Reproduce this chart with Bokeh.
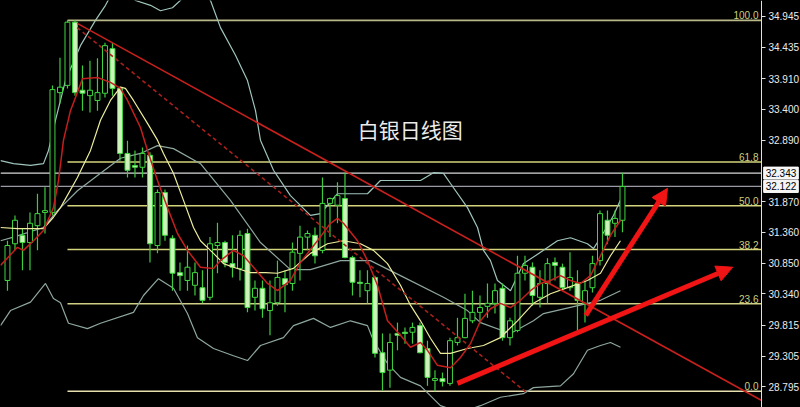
from bokeh.plotting import figure
from bokeh.models import Range1d, FixedTicker, PrintfTickFormatter, Label, Arrow, NormalHead, ColumnDataSource, LinearAxis
from bokeh.embed import file_html
from bokeh.resources import INLINE
from bokeh.core.properties import value

# ---------------- data ----------------
opens = [30.56,31.17,31.31,31.19,31.47,31.69,31.69,33.68,33.80,34.85,
         33.72,33.63,33.55,33.67,34.41,33.75,32.67,32.47,32.44,32.64,
         31.14,32.02,31.26,30.69,30.56,30.48,30.44,30.28,31.14,31.19,
         30.84,30.76,31.34,30.28,30.43,30.06,30.19,30.59,30.51,31.01,
         31.28,31.31,31.06,31.84,31.81,31.92,30.94,30.53,30.39,30.61,
         29.36,29.07,29.68,29.70,29.70,29.81,29.43,28.90,28.93,28.85,
         29.53,29.61,29.89,30.03,30.13,30.18,30.43,29.61,29.73,30.68,
         30.78,30.28,30.51,30.86,30.78,30.44,30.51,30.18,30.44,30.89,
         31.56,31.51,31.56]
highs = [31.22,31.64,31.42,31.69,32.00,32.11,33.80,34.26,34.88,34.88,
         34.13,34.21,34.25,34.51,34.51,33.78,32.88,32.72,32.77,32.69,
         32.07,32.07,31.31,30.86,31.14,30.86,30.73,31.28,31.52,31.22,
         31.31,31.39,31.42,30.56,30.56,30.56,30.89,30.73,31.19,31.47,
         31.39,31.44,32.27,31.94,32.19,32.35,30.97,30.73,30.73,30.64,
         29.68,29.68,29.86,29.78,29.86,29.86,29.56,29.07,29.03,29.61,
         29.94,30.34,30.39,30.31,30.51,30.51,30.51,29.94,30.97,30.97,
         30.86,30.73,30.93,30.94,30.84,31.03,30.73,30.56,30.97,31.72,
         31.72,31.72,32.35]
lows = [30.39,31.06,30.73,30.73,31.06,31.34,31.64,33.50,33.75,33.63,
        33.38,33.35,33.38,33.60,33.63,32.55,32.27,32.27,32.27,30.86,
        31.01,31.22,30.39,30.39,30.39,30.31,30.18,30.23,30.68,30.78,
        30.61,30.56,30.03,30.06,29.94,29.65,30.14,30.03,30.39,30.56,
        31.06,30.84,31.01,31.28,31.51,30.93,30.31,30.28,30.18,29.28,
        28.73,28.78,29.40,29.51,29.51,29.35,28.81,28.72,28.80,28.81,
        29.48,29.60,29.85,29.85,29.94,30.01,29.56,29.48,29.70,30.56,
        30.14,30.11,30.18,30.56,30.39,30.39,29.70,29.86,30.36,30.81,
        31.17,31.28,31.36]
closes = [31.14,31.56,31.19,31.51,31.67,31.72,33.73,33.77,34.85,33.68,
          33.67,33.72,33.68,34.46,33.75,32.67,32.39,32.44,32.67,31.17,
          32.02,31.31,30.68,30.64,30.78,30.69,30.23,31.17,31.19,30.86,
          30.78,31.31,30.11,30.43,30.09,30.19,30.61,30.49,31.03,31.28,
          31.34,30.97,31.84,31.92,31.97,30.94,30.53,30.51,30.51,29.35,
          29.03,29.53,29.65,29.68,29.78,29.36,28.95,28.93,28.88,29.56,
          29.61,29.93,30.03,30.11,30.18,30.39,29.61,29.89,30.68,30.81,
          30.31,30.51,30.84,30.81,30.44,30.61,30.23,30.39,30.84,31.67,
          31.31,31.59,32.12]

# indicator lines (bar index, price)
ma_red_x = [-0.93,1.33,2.13,3.47,4.8,6.13,6.8,7.47,8.4,9.07,10.0,12.0,13.73,15.07,16.0,17.73,18.67,20.0,21.33,22.67,
            24.0,25.73,27.47,28.4,30.13,31.47,32.8,34.67,36.0,37.73,39.07,41.33,43.07,44.0,44.8,46.67,48.0,49.33,50.67,52.4,
            53.73,55.07,56.0,57.33,59.07,60.4,61.73,63.07,64.4,65.73,67.07,68.4,69.73,71.07,72.4,73.73,75.07,76.4,77.73,79.07,
            80.4,81.73]
ma_red_y = [30.81,31.11,31.06,31.22,31.39,31.77,32.22,32.89,33.38,33.60,33.91,33.93,33.85,33.75,33.55,33.10,32.72,32.22,31.77,31.34,
            31.06,30.78,30.76,30.89,31.06,30.97,30.78,30.51,30.39,30.56,30.86,31.22,31.51,31.59,31.51,31.22,30.89,30.48,29.89,29.65,
            29.45,29.53,29.40,29.15,29.11,29.28,29.51,29.89,30.09,30.18,30.11,30.23,30.39,30.51,30.56,30.64,30.56,30.51,30.64,30.97,
            31.31,31.56]
ma_yel_x = [-0.93,1.33,4.8,6.13,7.07,9.33,11.07,12.4,13.73,15.07,15.73,16.8,18.67,20.0,20.8,22.13,23.47,24.8,25.73,27.47,
            28.8,30.13,32.4,34.4,36.0,38.13,40.4,42.67,44.8,47.07,48.8,50.67,52.4,53.73,55.07,56.4,57.73,59.07,61.33,63.47,
            65.73,68.0,70.13,72.4,74.67,77.33,79.07,80.4,81.73]
ma_yel_y = [31.44,31.42,31.42,31.61,31.77,32.27,32.72,33.22,33.55,33.77,33.75,33.55,33.17,32.89,32.67,32.34,31.89,31.44,31.22,31.01,
            30.84,30.78,30.69,30.69,30.68,30.76,31.01,31.17,31.22,31.17,31.06,30.84,30.48,30.15,29.89,29.60,29.35,29.35,29.43,29.48,
            29.61,29.89,30.18,30.34,30.44,30.56,30.68,30.97,31.22]
bb_up_x = [-0.93,0.8,3.07,4.8,5.47,6.4,7.73,9.73,11.73,13.07,14.47,15.73,17.07,19.07,20.4,22.0,23.73,25.73,27.07,28.4,
           30.4,32.0,33.07,33.73,35.47,37.73,40.4,41.73,44.0,48.0,49.73,52.4,55.07,56.8,58.13,59.07,61.33,62.67,63.47,64.4,
           65.33,67.07,68.8,71.47,73.33,75.07,77.33,78.13,79.07,80.8,82.0]
bb_up_y = [32.55,32.50,32.47,32.50,32.72,33.22,33.88,34.46,34.88,35.13,35.46,35.38,35.21,35.13,35.04,35.09,35.29,35.38,35.21,34.76,
           34.30,33.88,33.38,32.89,32.39,31.97,31.64,31.67,32.00,32.00,32.22,32.22,32.22,32.35,32.34,32.17,31.77,31.44,31.06,30.89,
           30.56,30.39,30.84,31.06,31.22,31.27,31.17,31.09,31.27,31.64,31.97]
bb_mid_x = [-0.93,0.8,4.8,6.67,9.33,12.4,15.07,17.73,20.0,22.13,25.73,29.73,33.73,37.73,40.4,44.4,48.4,52.4,58.13,61.33,
            63.07,67.07,70.13,71.47,79.07,81.73]
bb_mid_y = [31.22,31.28,31.44,31.72,32.05,32.34,32.59,32.67,32.80,32.75,32.50,31.89,31.19,30.74,30.74,30.89,30.89,30.64,30.28,30.06,
            29.86,29.68,29.89,30.01,30.23,30.39]
bb_low_x = [-0.93,0.4,3.07,5.07,6.13,7.07,8.13,10.67,12.4,16.8,18.13,20.13,22.13,24.0,25.33,27.47,30.13,32.0,33.73,36.8,
            38.13,40.8,43.07,45.73,48.0,48.8,50.67,52.4,55.07,57.73,60.4,63.07,65.73,68.8,70.13,73.73,75.47,77.33,79.07,80.4,
            81.73]
bb_low_y = [29.81,30.06,30.20,30.51,30.26,30.19,29.85,29.76,29.85,30.03,30.31,30.59,30.43,30.01,29.61,29.43,29.31,29.23,29.48,29.61,
            29.81,29.93,29.78,29.89,29.81,29.56,29.18,28.95,28.81,28.48,28.37,28.48,28.62,28.68,28.78,28.81,29.01,29.40,29.48,29.53,
            29.45]

fib_start_index = 8
fib_high = 34.88
fib_low = 28.72
fib_levels = [0.0, 23.6, 38.2, 50.0, 61.8, 100.0]
fib_labels = ["0.0", "23.6", "38.2", "50.0", "61.8", "100.0"]
price_lines = [32.343, 32.122]
y_ticks = [34.945, 34.435, 33.910, 33.400, 32.890, 31.870, 31.360, 30.850, 30.340, 29.815, 29.305, 28.795]

trend_solid = ([9.3, 100.5], [34.83, 28.57])
trend_dashed = ([9.3, 69.1], [34.76, 28.71])
arrows = [(77.1, 29.98, 88.0, 32.09), (60.0, 28.85, 96.7, 30.78)]
title_text = "白银日线图"

# ---------------- figure ----------------
BAR_PX = 7.5
X0 = -0.93
X_AXIS = 100.53                  # price scale sits here
X1 = X0 + 800 / BAR_PX           # chart canvas spans the whole window
Y0, Y1 = 28.45, 35.21
p = figure(frame_width=800, frame_height=407, x_range=Range1d(X0, X1), y_range=Range1d(Y0, Y1),
           x_axis_location=None, y_axis_location=None, toolbar_location=None,
           output_backend="svg", min_border=0)
p.background_fill_color = "black"
p.border_fill_color = "black"
p.outline_line_color = None
p.xgrid.visible = False
p.ygrid.visible = False

ax = LinearAxis(fixed_location=X_AXIS)
ax.ticker = FixedTicker(ticks=y_ticks)
ax.formatter = PrintfTickFormatter(format="%.3f")
ax.axis_line_color = "#e0e0e0"
ax.major_tick_line_color = "#e0e0e0"
ax.major_tick_out = 4
ax.major_tick_in = 0
ax.minor_tick_line_color = None
ax.major_label_text_color = "#ececec"
ax.major_label_text_font = "Liberation Sans"
ax.major_label_text_font_size = "10px"
ax.major_label_standoff = 3
p.add_layout(ax, "right")

# fib lines
fy = [fib_low + (fib_high - fib_low) * l / 100.0 for l in fib_levels]
fib_colors = ["#e6dfae", "#cfcf86", "#d4d47c", "#d4d47c", "#d4d47c", "#b8b888"]
p.segment(x0=[fib_start_index] * len(fy), y0=fy, x1=[X_AXIS] * len(fy), y1=fy, line_color=fib_colors, line_width=1.6)
p.text(x=[X_AXIS - 0.4] * len(fy), y=fy, text=fib_labels, text_align="right", text_baseline="bottom",
       text_color="#cfcf7a", text_font=value("Liberation Sans"), text_font_size="10px", y_offset=-1)

# price lines
p.segment(x0=[X0] * 2, y0=price_lines, x1=[X_AXIS] * 2, y1=price_lines, line_color=["#d8d8d8", "#9a9aa4"], line_width=1.2)

# bands
band_col = "#8ea79f"
p.line(bb_up_x, bb_up_y, line_color="#9fc4bc", line_width=1.2)
p.line(bb_mid_x, bb_mid_y, line_color=band_col, line_width=1.2)
p.line(bb_low_x, bb_low_y, line_color=band_col, line_width=1.2)

# candles
idx = list(range(len(opens)))
bull = [c >= o for o, c in zip(opens, closes)]
src = ColumnDataSource(dict(
    x=idx, o=opens, h=highs, l=lows, c=closes,
    top=[max(o, c) for o, c in zip(opens, closes)],
    bot=[min(o, c) for o, c in zip(opens, closes)],
    fill=["black" if b else "#cdf3bb" for b in bull],
))
p.segment(x0="x", y0="h", x1="x", y1="l", source=src, line_color="#3ccc3c", line_width=1.2)
p.vbar(x="x", top="top", bottom="bot", width=0.66, source=src, fill_color="fill", line_color="#3fd63f", line_width=1)

# moving averages
p.line(ma_yel_x, ma_yel_y, line_color="#ecec9c", line_width=1.2)
p.line(ma_red_x, ma_red_y, line_color="#c41e1e", line_width=1.5)

# trend lines
p.line(trend_solid[0], trend_solid[1], line_color="#c8201c", line_width=1.6)
p.line(trend_dashed[0], trend_dashed[1], line_color="#a8201c", line_width=1.6, line_dash="4 3")

# arrows
for (xs, ys, xe, ye) in arrows:
    p.add_layout(Arrow(end=NormalHead(size=16, fill_color="#f01414", line_color="#f01414"),
                       x_start=xs, y_start=ys, x_end=xe, y_end=ye, line_color="#f01414", line_width=5))

# title
p.add_layout(Label(x=53.7, y=33.08, text=title_text, text_align="center", text_baseline="middle",
                   text_color="#ececec", text_font="Noto Sans CJK SC", text_font_size="21px"))

# boxed price labels on the price scale
for pl in price_lines:
    p.add_layout(Label(x=X_AXIS + 0.3, y=pl, text="%.3f" % pl, text_align="left", text_baseline="middle",
                       text_color="black", text_font="Liberation Sans", text_font_size="10px",
                       background_fill_color="#f4f4f4", border_line_color="#ffffff", padding=2))

html = file_html(p, INLINE)
html = html.replace("</head>", "<style>html,body{margin:0;padding:0;background:#000;}</style></head>", 1)
open("out.html", "w").write(html)
